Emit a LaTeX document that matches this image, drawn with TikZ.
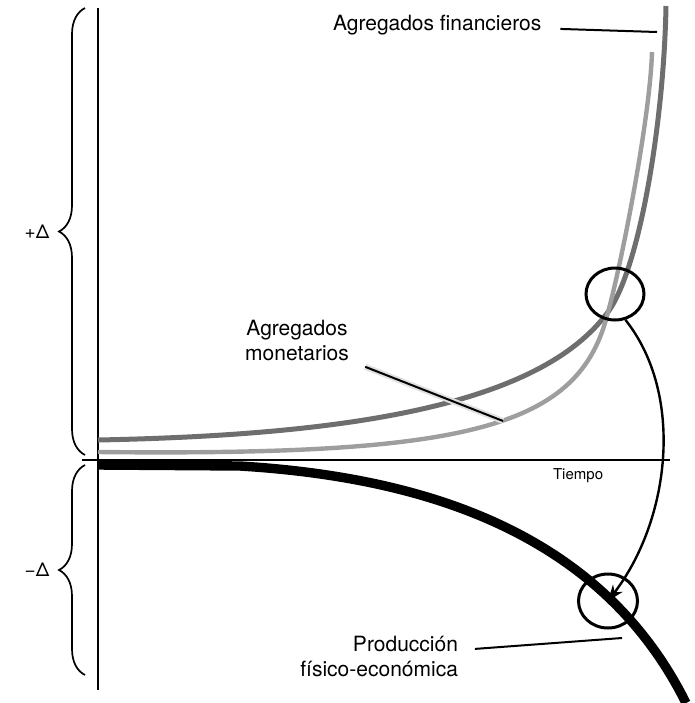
\documentclass[tikz,border=0pt]{standalone}
\usepackage{fontspec}
\setmainfont{TeX Gyre Heros}
\usetikzlibrary{arrows.meta,positioning,decorations.pathreplacing,shapes.geometric}
\tikzset{
        >={Stealth[length=8pt, width=6pt, inset=2.5pt]},
        labels/.style = {font=\fontsize{10.5}{12.5}\selectfont},
        tiempo/.style = {font=\fontsize{7.5}{9}\selectfont},
        delta/.style = {font=\fontsize{9.5}{11}\selectfont},
        financ/.style = {line width=2.5pt, black!57},
        monet/.style = {line width=2.2pt, black!38},
        prod/.style = {line width=4.7pt},
        marca/.style = {draw, ellipse, line width=1.5pt, inner sep=0pt},
        lbrace/.style = {decorate, decoration={brace, amplitude=13pt}, line width=0.85pt},
        leader/.style = {line width=1pt}
}

\begin{document}
\begin{tikzpicture}[x=0.5pt, y=-0.5pt]
        \useasboundingbox (0,0) rectangle (695,703);

        % Axes
        \draw [line width=0.6pt] (98,8) -- (98,690);
        \draw [line width=0.6pt] (82,460) -- (670,460);
        \node [tiempo, anchor=west] (tiempo) at (546,476) {Tiempo};

        % Braces
        \draw [lbrace] (85,455) -- (85,8);
        \draw [lbrace] (85,675) -- (85,465);
        \node [delta] (mas) at (37,232) {+Δ};
        \node [delta] (menos) at (37,570) {−Δ};

        % Aggregates and production
        \draw [financ] (98,440) .. controls (350,435) and (540,405) .. (608,312)
                .. controls (640,268) and (664,120) .. (666,6);
        \draw [monet] (98,452) .. controls (470,456) and (580,428) .. (608,312)
                .. controls (620,270) and (650,120) .. (652,52);
        \draw [prod] (98,465) -- (240,466) .. controls (420,477) and (600,530) .. (686,703);

        % Circles and arrow
        \node [marca, minimum width=29pt, minimum height=26pt] (cruce) at (615,294) {};
        \node [marca, minimum width=29.5pt, minimum height=27pt] (caida) at (608,601) {};
        \draw [->, line width=1.2pt] (cruce.-68) .. controls (685,395) and (670,520) .. (caida.center);

        % Labels
        \node [labels, anchor=west] (financieros) at (326,25) {Agregados financieros};
        \coordinate (pfin) at (657,32);
        \draw [leader, shorten <=6pt] (financieros) -- (pfin);

        \node [labels, align=center] (monetarios) at (297,340) {Agregados\\monetarios};
        \coordinate (pmon) at (503,421);
        \draw [leader, shorten <=5pt, preaction={draw, black!12, line width=3pt, shorten <=5pt}] (monetarios) -- (pmon);

        \node [labels, align=right, anchor=east] (produccion) at (465,656) {Producción\\físico-económica};
        \coordinate (pprod) at (622,638);
        \draw [leader, shorten <=5pt] (produccion) -- (pprod);

\end{tikzpicture}
\end{document}
